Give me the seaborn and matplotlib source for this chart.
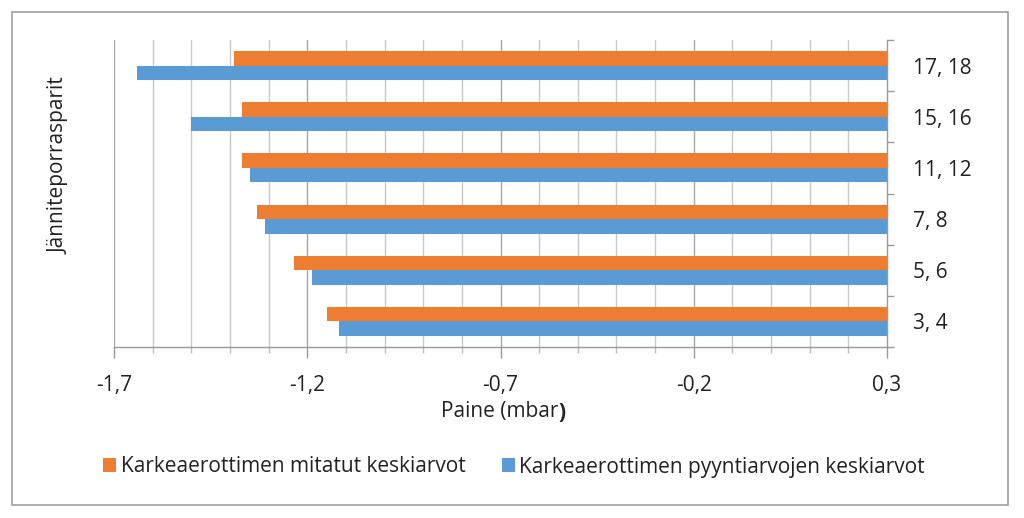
import numpy as np
import pandas as pd
import matplotlib
matplotlib.use("Agg")
import matplotlib.pyplot as plt
from matplotlib.patches import Rectangle
from matplotlib.ticker import MultipleLocator, FixedLocator
import seaborn as sns

categories = ["17, 18", "15, 16", "11, 12", "7, 8", "5, 6", "3, 4"]
mitatut = [-1.39, -1.37, -1.368, -1.33, -1.235, -1.15]
pyynti = [-1.64, -1.50, -1.349, -1.309, -1.188, -1.118]
series_names = ["Karkeaerottimen mitatut keskiarvot",
                "Karkeaerottimen pyyntiarvojen keskiarvot"]
x_ticks = [-1.7, -1.2, -0.7, -0.2, 0.3]
base = 0.3

sns.set_theme(style="white")
plt.rcParams['font.family'] = ['Open Sans', 'DejaVu Sans']

df = pd.DataFrame({
    "pari": categories * 2,
    "arvo": mitatut + pyynti,
    "sarja": [series_names[0]] * len(categories) + [series_names[1]] * len(categories),
})

fig = plt.figure(figsize=(10.24, 5.18), dpi=100)
W, H = 1024, 518
ax = fig.add_axes([114 / W, 1 - 347 / H, (887 - 114) / W, (347 - 40) / H])

sns.barplot(data=df, x="arvo", y="pari", hue="sarja", order=categories,
            hue_order=series_names, palette=["#ED7D31", "#5B9BD5"],
            orient="h", width=0.57, saturation=1, ax=ax, zorder=3)

# bars start from the right end of the axis (0,3), like the original
for p in ax.patches:
    w = p.get_width()
    p.set_x(base)
    p.set_width(w - base)
    p.set_linewidth(0)

ax.set_xlim(-1.7, 0.3)
ax.set_ylim(5.5, -0.5)

# grid
ax.xaxis.set_major_locator(FixedLocator(x_ticks))
ax.xaxis.set_minor_locator(MultipleLocator(0.1))
ax.grid(False)
for v in np.arange(-1.7, 0.3, 0.1):
    major = any(abs(v - t) < 1e-6 for t in x_ticks)
    ax.axvline(v, color="#a6a6a6" if major else "#c8c8c8", lw=1.0, zorder=1)

ax.set_xticks(x_ticks)
ax.set_xticklabels([f"{t:.1f}".replace(".", ",") for t in x_ticks], fontsize=15, color="#222222")
ax.tick_params(axis="x", which="major", direction="out", length=8, width=1, color="#999999", pad=12, bottom=True)
ax.tick_params(axis="x", which="minor", direction="out", length=4, width=1, color="#bbbbbb", bottom=True)

ax.yaxis.tick_right()
ax.set_yticks(range(len(categories)))
ax.set_yticklabels(categories, fontsize=15, color="#222222")
ax.set_yticks(np.arange(-0.5, len(categories), 1), minor=True)
ax.tick_params(axis="y", which="major", length=0, pad=19)
ax.tick_params(axis="y", which="minor", direction="out", length=5, width=1, color="#999999", right=True, left=False)

for s in ["top", "left"]:
    ax.spines[s].set_visible(False)
for s in ["right", "bottom"]:
    ax.spines[s].set_color("#999999")
    ax.spines[s].set_linewidth(1)

ax.set_ylabel("")
ax.set_xlabel("")
fig.text(59 / W, 1 - 166 / H, "Jänniteporrasparit", rotation=90, ha="center", va="center",
         fontsize=15, color="#222222")
lab = fig.text(500 / W, 1 - 412 / H, "Paine (mbar", ha="center", va="center",
               fontsize=15, color="#222222")
ax.annotate(")", xy=(1, 0), xycoords=lab, ha="left", va="bottom",
            fontsize=15, fontweight="bold", color="#222222")

leg = ax.legend(loc="center", bbox_to_anchor=(514 / W, 1 - 467 / H), bbox_transform=fig.transFigure,
                ncol=2, frameon=False, fontsize=15, handlelength=0.65, handleheight=0.65,
                handletextpad=0.2, columnspacing=1.75)
for t in leg.get_texts():
    t.set_color("#222222")

fig.patches.append(Rectangle((12 / W, 1 - 505 / H), (1008 - 12) / W, (505 - 12) / H,
                             transform=fig.transFigure, fill=False, edgecolor="#a0a0a0", lw=1.2))

fig.savefig("out.png", dpi=100)
